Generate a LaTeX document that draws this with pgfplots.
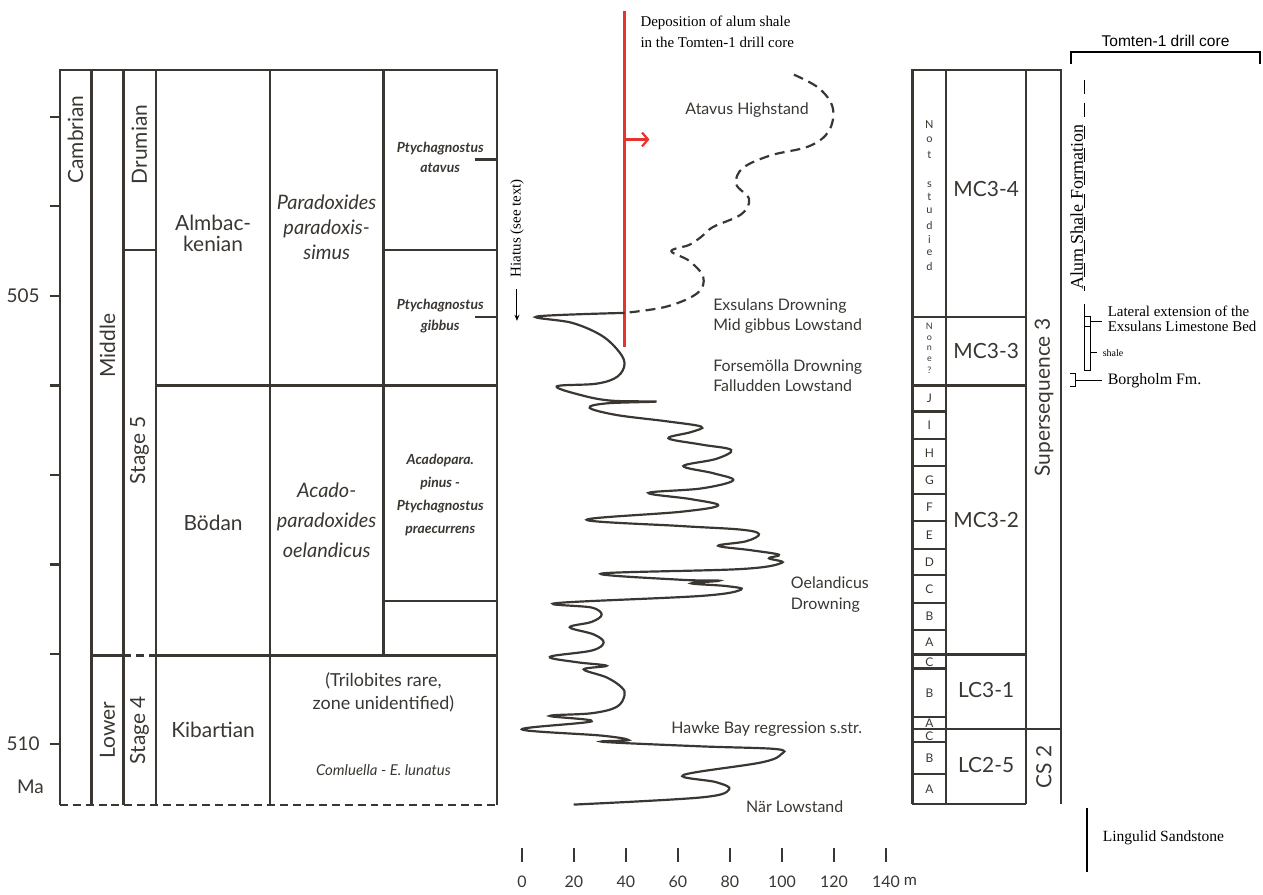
\documentclass[border=0pt]{standalone}
\usepackage{fontspec}
\setmainfont{Lato}
\newfontfamily\tms{Liberation Serif}
\newfontfamily\arl{Liberation Sans}
\usepackage{pgfplots}
\pgfplotsset{compat=1.18}
\usetikzlibrary{arrows.meta}
\definecolor{ln}{RGB}{58,54,50}
\definecolor{rd}{RGB}{228,52,44}
\newcommand{\fs}[2]{\fontsize{#1}{#2}\selectfont}
\tikzset{fr/.style={line width=1.1pt, draw=ln}}
\begin{document}
\begin{tikzpicture}
% ---------- layout axis, in pixel units ----------
\begin{axis}[at={(0,0)}, anchor=south west, width=631.5pt, height=447pt, scale only axis,
  xmin=0, xmax=1263, ymin=0, ymax=894, y dir=reverse, hide axis, clip=false]
\path (0,0) rectangle (1263,894);
% left block
\draw[fr] (56,808) -- (56,70) -- (495,70) -- (495,808);
\pgfplotsinvokeforeach{88,120,153,267}{\draw[fr] (#1,70) -- (#1,808);}
\draw[fr] (381,70) -- (381,658);
\draw[fr, dash pattern=on 4pt off 2.5pt] (56,808) -- (495,808);
\draw[fr] (120,251) -- (153,251);
\draw[fr] (381,251) -- (495,251);
\draw[fr] (153,387) -- (495,387);
\draw[fr] (381,603) -- (495,603);
\draw[fr] (88,658) -- (120,658);
\draw[fr, dash pattern=on 4pt off 2.5pt] (120,658) -- (153,658);
\draw[fr] (153,658) -- (495,658);
\draw[fr] (473,160) -- (495,160);
\draw[fr] (473,318) -- (495,318);
\node[rotate=90, text=ln, font={\fs{10.5}{12}}] at (72,140) {Cambrian};
\node[rotate=90, text=ln, font={\fs{10.5}{12}}] at (104,347) {Middle};
\node[rotate=90, text=ln, font={\fs{10.5}{12}}] at (104,733) {Lower};
\node[rotate=90, text=ln, font={\fs{10.5}{12}}] at (136,145) {Drumian};
\node[rotate=90, text=ln, font={\fs{10.5}{12}}] at (136,452) {Stage 5};
\node[rotate=90, text=ln, font={\fs{10.5}{12}}] at (136,733) {Stage 4};
\node[align=center, text=ln, font={\fs{10.5}{10.5}}] at (210,234) {Almbac-\\kenian};
\node[text=ln, font={\fs{10.5}{12}}] at (210,525) {Bödan};
\node[text=ln, font={\fs{10.5}{12}}] at (210,733) {Kibartian};
\node[align=center, text=ln, font={\itshape\fs{10}{12.5}}] at (324,228) {Paradoxides\\paradoxis-\\simus};
\node[align=center, text=ln, font={\itshape\fs{10}{15}}] at (324,522) {Acado-\\paradoxides\\oelandicus};
\node[align=center, text=ln, font={\fs{9}{12}}] at (381,695) {(Trilobites rare,\\zone unidentified)};
\node[text=ln, font={\itshape\fs{7.5}{9}}] at (381,773) {Comluella - E. lunatus};
\node[align=center, text=ln, font={\bfseries\itshape\fs{7}{10.5}}] at (438,158) {Ptychagnostus\\atavus};
\node[align=center, text=ln, font={\bfseries\itshape\fs{7}{10.5}}] at (438,317) {Ptychagnostus\\gibbus};
\node[align=center, text=ln, font={\bfseries\itshape\fs{7}{11.5}}] at (438,497) {Acadopara.\\pinus -\\Ptychagnostus\\praecurrens};
% hiatus
\node[rotate=90, font={\tms\fs{7.5}{9}}] at (515,229) {Hiatus (see text)};
\draw[line width=0.5pt, -{Stealth[length=3pt,width=2.5pt]}] (515,290) -- (515,322);
% red line
\draw[rd, line width=1.1pt] (623,11) -- (623,348);
\draw[rd, line width=1.1pt, -{Straight Barb[length=3pt,width=7pt]}] (623,140) -- (648,140);
\node[anchor=west, align=left, font={\tms\fs{7.5}{10.5}}] at (632,32) {Deposition of alum shale\\in the Tomten-1 drill core};
% curve labels
\node[text=ln, font={\fs{8}{10}}] at (746,110) {Atavus Highstand};
\node[anchor=west, align=left, text=ln, font={\fs{8}{10}}] at (705,317) {Exsulans Drowning\\Mid gibbus Lowstand};
\node[anchor=west, align=left, text=ln, font={\fs{8}{10}}] at (705,377) {Forsemölla Drowning\\Falludden Lowstand};
\node[anchor=west, align=left, text=ln, font={\fs{8}{10.5}}] at (783,597) {Oelandicus\\Drowning};
\node[anchor=west, text=ln, font={\fs{8}{10}}] at (663,732) {Hawke Bay regression s.str.};
\node[anchor=west, text=ln, font={\fs{8}{10}}] at (738,810) {När Lowstand};
% right block
\draw[fr] (912,807) -- (912,70) -- (1061,70) -- (1061,807);
\draw[fr] (946,70) -- (946,807);
\draw[fr] (1026,70) -- (1026,807);
\draw[fr] (912,807) -- (1026,807);
\draw[fr] (912,318) -- (1026,318);
\draw[fr] (912,387) -- (1026,387);
\draw[fr] (912,657) -- (1026,657);
\draw[fr] (912,732) -- (1061,732);
\pgfplotsinvokeforeach{413,441,468,496,523,551,577,605,632,671,720,745,777}{\draw[fr] (912,#1) -- (946,#1);}
\node[text=ln, font={\fs{10.5}{12}}] at (986,190) {MC3-4};
\node[text=ln, font={\fs{10.5}{12}}] at (986,352) {MC3-3};
\node[text=ln, font={\fs{10.5}{12}}] at (986,522) {MC3-2};
\node[text=ln, font={\fs{10.5}{12}}] at (986,693) {LC3-1};
\node[text=ln, font={\fs{10.5}{12}}] at (986,768) {LC2-5};
\node[rotate=90, text=ln, font={\fs{10.5}{12}}] at (1044,399) {Supersequence 3};
\node[rotate=90, text=ln, font={\fs{10.5}{12}}] at (1044,770) {CS 2};
% Not studied / None?
\node[text=ln, font={\fs{5.5}{6}}] at (929,125) {N};
\node[text=ln, font={\fs{5.5}{6}}] at (929,140) {o};
\node[text=ln, font={\fs{5.5}{6}}] at (929,155) {t};
\node[text=ln, font={\fs{5.5}{6}}] at (929,185) {s};
\node[text=ln, font={\fs{5.5}{6}}] at (929,198) {t};
\node[text=ln, font={\fs{5.5}{6}}] at (929,212) {u};
\node[text=ln, font={\fs{5.5}{6}}] at (929,226) {d};
\node[text=ln, font={\fs{5.5}{6}}] at (929,240) {i};
\node[text=ln, font={\fs{5.5}{6}}] at (929,254) {e};
\node[text=ln, font={\fs{5.5}{6}}] at (929,268) {d};
\node[text=ln, font={\fs{4.5}{5}}] at (929,328) {N};
\node[text=ln, font={\fs{4.5}{5}}] at (929,339) {o};
\node[text=ln, font={\fs{4.5}{5}}] at (929,350) {n};
\node[text=ln, font={\fs{4.5}{5}}] at (929,361) {e};
\node[text=ln, font={\fs{4.5}{5}}] at (929,372) {?};
% letter boxes
\node[text=ln, font={\fs{6}{7}}] at (929,400) {J};
\node[text=ln, font={\fs{6}{7}}] at (929,427) {I};
\node[text=ln, font={\fs{6}{7}}] at (929,454.5) {H};
\node[text=ln, font={\fs{6}{7}}] at (929,482) {G};
\node[text=ln, font={\fs{6}{7}}] at (929,509.5) {F};
\node[text=ln, font={\fs{6}{7}}] at (929,537) {E};
\node[text=ln, font={\fs{6}{7}}] at (929,564) {D};
\node[text=ln, font={\fs{6}{7}}] at (929,591) {C};
\node[text=ln, font={\fs{6}{7}}] at (929,618.5) {B};
\node[text=ln, font={\fs{6}{7}}] at (929,645) {A};
\node[text=ln, font={\fs{6}{7}}] at (929,664.5) {C};
\node[text=ln, font={\fs{6}{7}}] at (929,695.5) {B};
\node[text=ln, font={\fs{6}{7}}] at (929,726) {A};
\node[text=ln, font={\fs{6}{7}}] at (929,738.5) {C};
\node[text=ln, font={\fs{6}{7}}] at (929,761) {B};
\node[text=ln, font={\fs{6}{7}}] at (929,792) {A};
% Tomten-1 drill core annotations
\node[font={\arl\fs{7.8}{9}}] at (1166,41) {Tomten-1 drill core};
\draw[line width=1.1pt] (1071,64) -- (1071,52) -- (1261,52) -- (1261,64);
\draw[line width=0.6pt, dash pattern=on 7pt off 4.5pt] (1085,80) -- (1085,292);
\node[rotate=90, anchor=base, font={\tms\fs{9}{10}}] at (1083,208) {Alum Shale Formation};
\draw[line width=0.6pt] (1085,305) -- (1085,372);
\draw[line width=0.6pt] (1085,328) rectangle (1091,372);
\draw[line width=0.6pt] (1085,318) rectangle (1091,328);
\draw[line width=0.6pt] (1091,323) -- (1102,323);
\node[anchor=west, align=left, font={\tms\fs{7.5}{8}}] at (1101,320) {Lateral extension of the\\Exsulans Limestone Bed};
\draw[line width=0.6pt] (1091,354) -- (1097,354);
\node[anchor=west, font={\tms\fs{5}{6}}] at (1096,354) {shale};
\draw[line width=0.6pt] (1070,375) -- (1076,375) -- (1076,388) -- (1070,388);
\draw[line width=0.6pt] (1076,382) -- (1102,382);
\node[anchor=west, font={\tms\fs{8}{9}}] at (1101,382) {Borgholm Fm.};
\draw[line width=1.1pt] (1087,811) -- (1087,875);
\node[anchor=west, font={\tms\fs{7.8}{9}}] at (1096,841) {Lingulid Sandstone};
\end{axis}
% ---------- data axis: relative sea level (m) against age (Ma) ----------
\begin{axis}[at={(0,0)}, anchor=south west, width=631.5pt, height=447pt, scale only axis,
  xmin=-199.23, xmax=284.67, ymin=501.696, ymax=511.641, y dir=reverse, hide axis, clip=false]
% age ticks
\pgfplotsinvokeforeach{503,504,505,506,507,508,509,510}{\draw[fr] (axis cs:-181.6,#1) -- (axis cs:-177.8,#1);}
\node[anchor=east, text=ln, font={\fs{9.5}{11}}] at (axis cs:-182.8,505) {505};
\node[anchor=east, text=ln, font={\fs{9.5}{11}}] at (axis cs:-182.8,510) {510};
\node[text=ln, font={\fs{9.5}{11}}] at (axis cs:-189.0,510.48) {Ma};
% metre scale
\pgfplotsinvokeforeach{0,20,40,60,80,100,120,140}{
  \draw[fr] (axis cs:#1,511.17) -- (axis cs:#1,511.32);
  \node[text=ln, font={\fs{8}{9}}] at (axis cs:#1,511.54) {#1};}
\node[text=ln, font={\fs{8}{9}}] at (axis cs:149.4,511.54) {m};
% solid sea-level curve
\addplot[ln, line width=1.1pt, smooth, tension=0.6] coordinates {
(39.46,505.19) (5.75,505.23) (19.16,505.30) (29.89,505.43) (36.40,505.59) (39.46,505.75)
(36.78,505.90) (28.74,505.98) (13.41,506.01) (22.99,506.11) (34.48,506.17) (51.72,506.18)
(32.57,506.20) (26.05,506.25) (36.40,506.33) (55.56,506.40) (68.97,506.46) (65.13,506.52)
(56.32,506.59) (68.97,506.66) (80.46,506.72) (74.71,506.82) (62.07,506.90) (73.56,506.98)
(81.23,507.06) (68.97,507.15) (48.66,507.20) (65.13,507.27) (75.48,507.34) (61.30,507.41)
(24.90,507.50) (61.30,507.57) (84.29,507.61) (91.19,507.66) (86.21,507.74) (75.48,507.79)
(88.12,507.84) (98.85,507.89) (95.02,507.93) (100.0,507.98) (84.29,508.05) (30.65,508.10)
(61.30,508.17) (75.86,508.18) (65.13,508.21) (78.54,508.24) (84.29,508.28) (68.97,508.35)
(13.41,508.43) (26.82,508.48) (30.65,508.56) (26.82,508.64) (18.39,508.70) (27.59,508.78)
(31.42,508.87) (26.82,508.96) (10.73,509.03) (21.07,509.09) (32.57,509.13) (23.75,509.17)
(32.57,509.26) (38.31,509.37) (39.46,509.46) (36.40,509.59) (26.82,509.66) (10.73,509.69)
(26.82,509.75) (0.00,509.84) (30.65,509.91) (41.00,509.96) (31.42,509.98) (68.97,510.03)
(97.70,510.06) (99.62,510.12) (91.95,510.21) (62.07,510.35) (74.71,510.43) (79.69,510.51)
(68.97,510.60) (19.92,510.68)
};
% dashed (inferred) part
\addplot[ln, line width=1.1pt, smooth, tension=0.6, dash pattern=on 5pt off 3pt] coordinates {
(104.60,502.53) (114.18,502.68) (119.54,502.90) (118.01,503.16) (110.34,503.33) (95.79,503.43)
(85.06,503.57) (82.38,503.75) (87.36,503.92) (84.29,504.09) (73.56,504.23) (68.97,504.34)
(64.37,504.43) (57.47,504.50) (64.37,504.61) (69.73,504.79) (67.43,504.97) (55.56,505.12)
(39.46,505.19)
};
\end{axis}
\end{tikzpicture}
\end{document}
